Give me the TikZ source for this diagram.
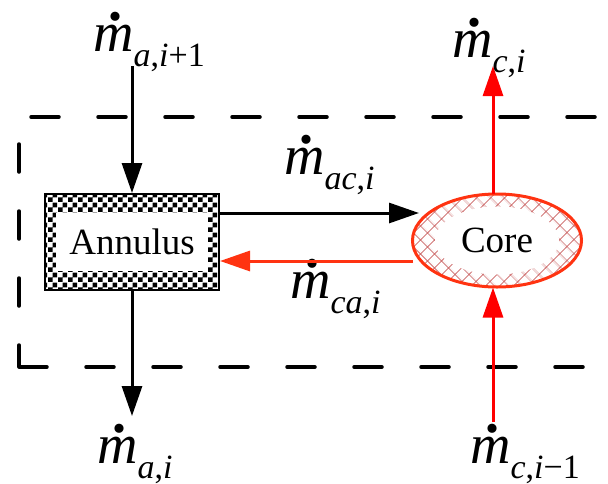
\documentclass[tikz,border=0pt]{standalone}
\usepackage{fontspec}
\setmainfont{Liberation Serif}
\usetikzlibrary{arrows.meta,patterns,patterns.meta,shapes.geometric}
\pgfdeclarepatternformonly{bigcheck}{\pgfpointorigin}{\pgfqpoint{9.6pt}{9.6pt}}{\pgfqpoint{9.6pt}{9.6pt}}{%
  \pgfpathrectangle{\pgfpointorigin}{\pgfqpoint{4.8pt}{4.8pt}}%
  \pgfpathrectangle{\pgfqpoint{4.8pt}{4.8pt}}{\pgfqpoint{4.8pt}{4.8pt}}%
  \pgfusepath{fill}}
\definecolor{orred}{RGB}{255,51,17}
\definecolor{patred}{RGB}{205,105,105}
\newcommand\iv[1]{\textit{#1}}
\newcommand\flowlbl[1]{{\fontsize{56}{60}\selectfont\itshape\rlap{\hspace{0.28em}\smash{\raisebox{0.54em}{\upshape\bfseries .}}}m}\raisebox{-15pt}{\fontsize{34}{36}\selectfont #1}}
\tikzset{
  blk/.style={line width=3pt,-{Triangle[length=30pt,width=20pt]}},
  rdarrow/.style={blk,red},
  orarrow/.style={blk,orred},
  dashbox/.style={line width=3.5pt,line cap=round,dash pattern=on 28pt off 39pt},
  lbl/.style={anchor=base west,inner sep=0pt},
  boxtext/.style={font=\fontsize{37}{40}\selectfont,inner sep=0pt}
}
\begin{document}
\begin{tikzpicture}[x=1pt,y=-1pt]
\useasboundingbox[fill=white] (0,0) rectangle (608,483);
\begin{scope}
  \clip (0,0) rectangle (608,483);
  \draw[dashbox] (19,367) -- (617.5,367) -- (617.5,117) -- (19,117) -- cycle;
\end{scope}
% Annulus
\node[draw,line width=2pt,pattern=bigcheck,minimum width=174pt,minimum height=96pt,inner sep=0pt] (ann) at (132,242) {};
\node[fill=white,minimum width=152pt,minimum height=58pt,inner sep=0pt] (annin) at (ann.center) {};
\node[boxtext] (anntxt) at (ann.center) {Annulus};
% Core
\node[ellipse,draw=orred,line width=3pt,minimum width=169pt,minimum height=93pt,inner sep=0pt,
      pattern={Hatch[angle=45,distance=10.5pt,line width=1pt]},pattern color=patred] (core) at (497,240.5) {};
\node[ellipse,fill=white,minimum width=124pt,minimum height=68pt,inner sep=0pt] (corein) at (core.center) {};
\node[boxtext] (coretxt) at (core.center) {Core};
% labels
\node[lbl] (lai1) at (93,51) {\flowlbl{\iv{a},\iv{i}+1}};
\node[lbl] (lci) at (452,57) {\flowlbl{\iv{c},\iv{i}}};
\node[lbl] (lac) at (284,174) {\flowlbl{\iv{ac},\iv{i}}};
\node[lbl] (lca) at (290,298) {\flowlbl{\iv{ca},\iv{i}}};
\node[lbl] (lai) at (97,463) {\flowlbl{\iv{a},\iv{i}}};
\node[lbl] (lci1) at (470,463) {\flowlbl{\iv{c},\iv{i}−1}};
% connector ends
\coordinate (tin) at (132,66);
\coordinate (bout) at (132,416);
\coordinate (acs) at ([yshift=29pt]ann.east);
\coordinate (ace) at (419,213);
\coordinate (cas) at (413,261);
\coordinate (cae) at ([yshift=-19pt]ann.east);
\coordinate (cin) at (493,422);
\coordinate (cout) at (493,66);
% arrows
\draw[blk] (tin) -- (ann.north);
\draw[blk] (ann.south) -- (bout);
\draw[blk] (acs) -- (ace);
\draw[orarrow] (cas) -- (cae);
\draw[rdarrow] (cin) -- ([xshift=-4pt]core.south);
\draw[rdarrow] ([xshift=-4pt]core.north) -- (cout);
\end{tikzpicture}
\end{document}
